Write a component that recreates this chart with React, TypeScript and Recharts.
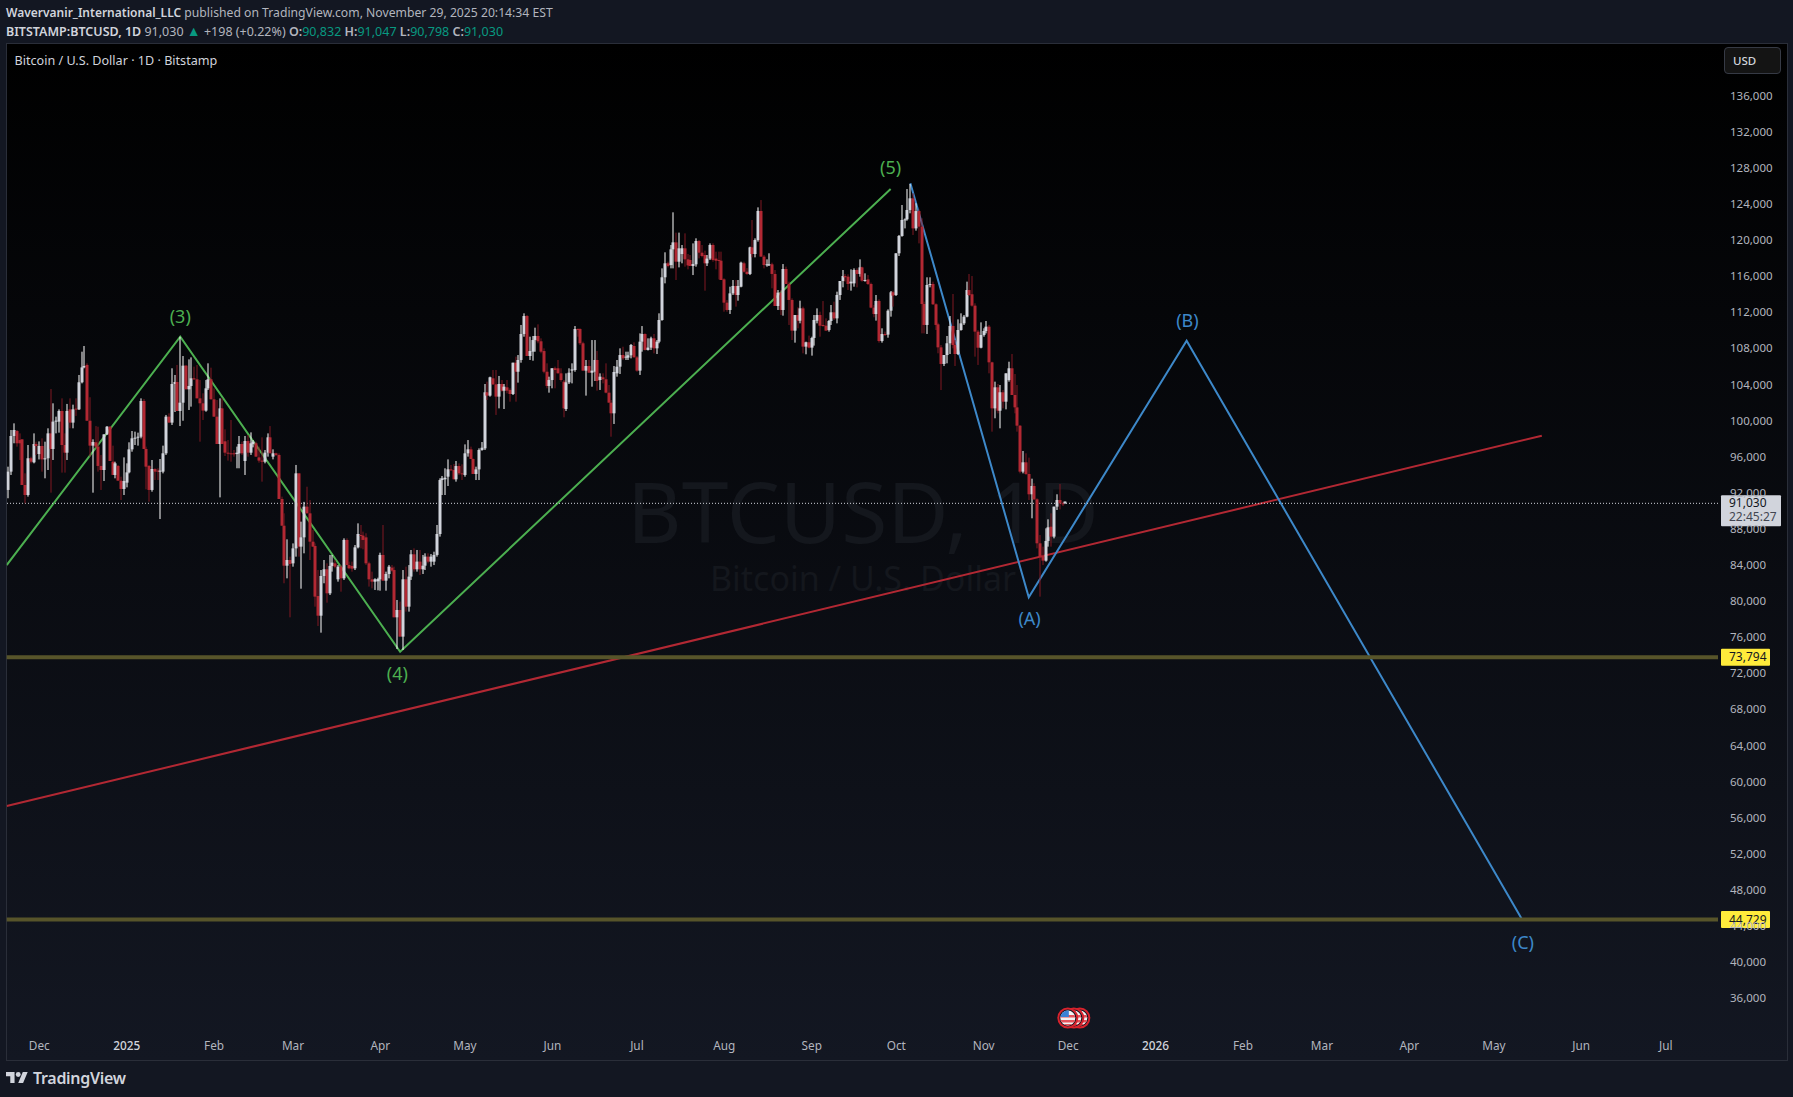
import { Bar, ComposedChart, Line, ReferenceDot, ReferenceLine, XAxis, YAxis } from "recharts";

const opens = [
  92320, 94350, 98300, 98850, 97850, 97930, 92870, 91760, 95830, 95380,
  97410, 96300, 97190, 95710, 95830, 98590, 96860, 99890, 99890, 101070,
  97300, 96450, 101250, 99780, 101330, 101250, 104250, 105900, 106170, 99990,
  97230, 97600, 97120, 94980, 94530, 98480, 99330, 95450, 93980, 94980,
  93350, 92430, 93130, 94270, 96820, 98040, 98110, 98220, 102180, 96860,
  94980, 92320, 94640, 94460, 94350, 94350, 96380, 100440, 99780, 104060,
  104280, 101070, 101990, 106090, 103470, 103840, 104690, 104580, 102470, 101920,
  101110, 103580, 104580, 102360, 100440, 97410, 101360, 97710, 96450, 96380,
  96380, 96300, 96380, 97410, 95530, 97740, 96450, 97410, 97490, 95930,
  95570, 95450, 96450, 98150, 96010, 96380, 96200, 91320, 88360, 83930,
  84560, 84190, 85850, 94160, 86040, 87070, 90470, 89730, 86590, 86110,
  80570, 78390, 82790, 83530, 80870, 83900, 84190, 82420, 83820, 82530,
  86780, 84000, 83900, 83640, 85960, 87330, 87260, 87070, 84190, 82420,
  82160, 82200, 82420, 85120, 82270, 83010, 83710, 83450, 78210, 79020,
  76070, 82420, 79390, 82720, 85190, 83530, 84380, 83530, 83930, 84930,
  84380, 84380, 85120, 87440, 93420, 93500, 93790, 94600, 94530, 93500,
  94970, 94160, 93980, 96380, 96820, 95750, 94090, 94600, 96750, 96930,
  103140, 102770, 104690, 104020, 102660, 104060, 103320, 103690, 103400, 102950,
  106420, 105420, 106720, 109600, 111590, 107160, 107640, 108930, 109380, 108790,
  107710, 105420, 103840, 104500, 105800, 105800, 105240, 104320, 101290, 104240,
  105540, 105610, 110150, 110150, 108570, 105540, 106050, 105310, 105420, 106720,
  104500, 104800, 104580, 103100, 101990, 100810, 105240, 105980, 107270, 106980,
  106980, 107240, 108270, 107010, 105540, 108750, 109600, 107830, 108090, 109120,
  108010, 108750, 111150, 115880, 117430, 117240, 118980, 119750, 117610, 118460,
  119090, 117870, 117800, 117130, 117320, 119900, 118610, 118350, 117430, 117950,
  119460, 117950, 117800, 117720, 115650, 113070, 112260, 114100, 114920, 113920,
  114840, 117430, 116500, 116250, 119200, 118460, 120010, 123230, 118170, 117240,
  117240, 117320, 116250, 112700, 114180, 112260, 116800, 115140, 113370, 109970,
  111700, 111070, 112440, 108200, 108680, 108090, 109160, 111070, 111700, 110600,
  110520, 110040, 111040, 112000, 111330, 113920, 115470, 116020, 115950, 115210,
  115210, 116690, 116250, 116980, 115510, 115650, 115140, 112520, 111810, 113260,
  108820, 109600, 109530, 112180, 114220, 113920, 118540, 120460, 122230, 122300,
  123340, 124630, 121300, 123220, 121490, 112920, 110600, 115030, 115140, 112890,
  110670, 108120, 106280, 107270, 108570, 110490, 108380, 107380, 110040, 110780,
  111520, 114470, 114000, 112740, 109860, 108080, 109490, 109930, 110410, 106460,
  101360, 103690, 101100, 103140, 102100, 104500, 105800, 102840, 101470, 99440,
  94350, 95380, 94090, 91840, 92760, 91280, 86410, 85000, 84490, 86670,
  88250, 87150, 90470, 91210, 90840, 90832,
];

const highs = [
  94900, 98960, 99700, 98960, 98590, 97930, 94160, 97300, 96000, 98590,
  97670, 97700, 98040, 97670, 99150, 103500, 101920, 100440, 101250, 102470,
  98590, 101850, 102470, 101770, 102470, 105060, 107640, 108270, 106350, 102590,
  97930, 99400, 99330, 96200, 98480, 99400, 99400, 97230, 95450, 95090,
  93790, 95930, 95270, 97600, 98850, 98780, 98670, 102470, 102400, 97120,
  95090, 95640, 94720, 94720, 95750, 97230, 100630, 100810, 105800, 105060,
  106170, 109300, 107160, 106170, 106790, 107010, 105980, 106170, 104500, 103030,
  104500, 106350, 105870, 103580, 102290, 102470, 102470, 99040, 97850, 100070,
  96750, 97120, 98300, 97670, 98300, 98410, 98700, 97850, 97670, 97120,
  98150, 96750, 98590, 99400, 96820, 96450, 96380, 91580, 89730, 86850,
  84930, 86400, 95090, 94160, 88810, 91000, 92680, 91210, 87890, 86400,
  83450, 83450, 84560, 84190, 85120, 85120, 84560, 84000, 84000, 86960,
  86960, 84380, 84380, 86220, 88620, 88440, 87700, 87520, 84380, 83270,
  82530, 82600, 85370, 88440, 83270, 84000, 84000, 83820, 80130, 79950,
  83450, 83820, 84000, 85670, 85850, 85670, 85670, 85120, 85300, 85300,
  85220, 85480, 88440, 93610, 93870, 94720, 95710, 95090, 95200, 95530,
  95270, 95160, 97370, 97850, 97120, 95820, 94900, 96930, 97630, 104060,
  104320, 104870, 105610, 105610, 104950, 104500, 104060, 104500, 103580, 106420,
  107090, 107270, 110600, 111890, 111700, 109300, 109380, 110300, 110670, 109120,
  108010, 106350, 104870, 105800, 105980, 106720, 105800, 104500, 105240, 105800,
  106350, 110480, 110230, 110230, 108750, 106720, 106720, 108930, 108930, 107720,
  105240, 105240, 106350, 103950, 102290, 106050, 106720, 108010, 108190, 107640,
  107640, 108490, 108680, 107160, 109670, 110480, 109670, 109120, 109300, 109600,
  108930, 111890, 116870, 118650, 117610, 119460, 123080, 120830, 120830, 119460,
  120750, 118460, 118350, 119640, 120200, 120010, 119460, 118830, 118350, 119640,
  119640, 118720, 118720, 118720, 115770, 113360, 114840, 115580, 115580, 115580,
  117610, 117610, 116900, 119270, 122230, 120200, 123630, 124440, 118350, 117870,
  118540, 117500, 116690, 114470, 114470, 117350, 117060, 115400, 113550, 111700,
  112550, 113290, 112630, 108750, 109420, 109300, 111700, 112440, 112070, 113250,
  111330, 111150, 112810, 113180, 114290, 115470, 116690, 116250, 116210, 116760,
  116870, 116870, 117870, 117060, 116320, 116130, 115290, 112810, 113920, 113440,
  110230, 109860, 112330, 114360, 114400, 118540, 120570, 123890, 122410, 125660,
  126220, 125180, 124080, 123410, 122410, 113180, 115880, 115880, 115400, 113000,
  110850, 108380, 107270, 109380, 111590, 114030, 108940, 111220, 111890, 111700,
  115400, 116250, 116020, 113000, 110040, 110890, 110230, 111040, 110600, 106530,
  104320, 104060, 103950, 103400, 105240, 106530, 107380, 105170, 103950, 99510,
  96640, 96380, 95900, 93570, 93060, 91390, 87330, 86040, 88070, 89070,
  89730, 90470, 91840, 92980, 91030, 91047,
];

const lows = [
  91400, 93980, 97490, 97120, 95640, 92870, 90840, 91580, 95270, 95270,
  96200, 95700, 94350, 93610, 94530, 92020, 95640, 98590, 98670, 94240,
  94240, 95640, 99150, 99150, 100520, 101180, 104130, 105800, 99990, 96010,
  92020, 96930, 94350, 92320, 93310, 98410, 95530, 93980, 93610, 93350,
  91210, 91760, 92610, 94160, 96560, 97300, 97230, 98040, 96860, 92390,
  91020, 92130, 93420, 93420, 89100, 94160, 96200, 99780, 99520, 100960,
  101070, 99400, 99990, 103470, 101180, 101550, 104500, 102470, 97670, 100070,
  100990, 103400, 102360, 100440, 97410, 91500, 97410, 96080, 95570, 95450,
  96010, 94720, 94720, 96200, 93980, 96010, 96200, 97040, 96010, 95340,
  93240, 95270, 96010, 96380, 95710, 96080, 91320, 88360, 81980, 82530,
  78210, 83820, 84930, 84930, 81380, 85300, 89730, 84560, 86040, 79390,
  77250, 76510, 81980, 79830, 80680, 83270, 83640, 82160, 81050, 82350,
  84000, 83530, 83270, 83450, 85850, 85850, 85740, 84000, 81610, 81420,
  81240, 81200, 81160, 82270, 81160, 82530, 83270, 78210, 74700, 76070,
  74590, 78840, 78840, 82350, 83270, 83270, 82900, 83010, 83450, 84190,
  83820, 84000, 84930, 87150, 91760, 91760, 92760, 94460, 93500, 93240,
  93980, 93420, 93790, 96010, 95750, 94090, 93420, 93420, 96670, 96750,
  102290, 102660, 103950, 100630, 101360, 103210, 101290, 103020, 102100, 102840,
  102100, 104210, 106420, 109300, 107160, 106720, 106640, 107640, 108570, 107460,
  105240, 103580, 103100, 103580, 103580, 105240, 104320, 100370, 101070, 104060,
  104130, 105420, 109300, 108380, 105540, 102770, 105310, 103760, 104390, 103320,
  103400, 104130, 103030, 101990, 98220, 99630, 104870, 105170, 106720, 106720,
  106720, 106900, 107010, 105420, 105060, 107640, 107770, 107770, 107830, 107460,
  107380, 108570, 111070, 115210, 116980, 116870, 116870, 115580, 116980, 117430,
  117060, 116760, 117130, 116130, 117060, 117980, 118090, 114400, 117130, 117800,
  117610, 116760, 115650, 115580, 112070, 112070, 111820, 113920, 112630, 113290,
  114770, 116400, 116150, 116130, 118090, 118090, 119830, 118170, 116870, 117060,
  117130, 114660, 112700, 112260, 111700, 111630, 115140, 110600, 108930, 108640,
  110230, 110780, 107460, 107350, 108010, 107200, 108310, 110780, 109300, 110410,
  109970, 109860, 110600, 111150, 110780, 113370, 114770, 115400, 114470, 114400,
  114840, 114770, 115950, 115400, 115400, 115030, 112440, 111450, 111080, 108640,
  108640, 109380, 109190, 111520, 112630, 113810, 118240, 120380, 121300, 122160,
  122970, 120570, 121050, 119640, 109670, 109670, 109600, 114770, 112810, 110040,
  107460, 103390, 106050, 106350, 107380, 108010, 106050, 107270, 109970, 110600,
  111450, 113810, 112630, 107090, 106170, 108010, 109300, 109670, 105240, 98780,
  100260, 100810, 99150, 101360, 101250, 104320, 102840, 100810, 98780, 94160,
  94160, 93980, 91210, 89180, 91210, 85850, 80500, 84000, 84380, 86040,
  86040, 86960, 90100, 90170, 90540, 90798,
];

const closes = [
  94350, 98300, 98960, 97490, 97490, 92870, 91760, 95830, 95450, 97410,
  97190, 97190, 95710, 95830, 98590, 96860, 99890, 100000, 101070, 97300,
  96450, 101070, 99780, 101250, 101220, 104250, 105900, 106050, 99990, 97230,
  97630, 97120, 94980, 94530, 98480, 99330, 95530, 93980, 95270, 93350,
  92430, 93310, 94270, 96820, 98040, 98110, 98220, 102180, 96860, 94900,
  92320, 94640, 94350, 94350, 94460, 96380, 100440, 99780, 104060, 104280,
  101070, 101990, 106090, 103470, 103840, 104690, 104580, 102470, 101920, 101110,
  103580, 104580, 102360, 100440, 97410, 101360, 97410, 96450, 96380, 96300,
  96300, 96450, 97410, 96380, 97740, 96450, 97490, 97670, 96010, 95570,
  95450, 96450, 98150, 96380, 96380, 96200, 91320, 88360, 83930, 84560,
  84120, 85850, 94160, 86040, 87070, 90470, 89730, 86590, 86040, 80500,
  78390, 82790, 83530, 80870, 83900, 84270, 83820, 83820, 82530, 86780,
  84000, 83640, 83600, 85960, 87440, 87260, 86780, 84190, 82420, 82160,
  82420, 82450, 85120, 82270, 83010, 83820, 83380, 78210, 79020, 76070,
  82420, 79390, 82720, 85190, 83530, 84380, 83530, 83930, 84930, 84380,
  84930, 85120, 87440, 93420, 93610, 93680, 94610, 94530, 93500, 94970,
  94160, 94090, 96380, 96820, 95750, 94090, 94600, 96750, 97000, 103140,
  102770, 104800, 104020, 102660, 104060, 103320, 103760, 103320, 102950, 106420,
  105420, 106720, 109600, 111590, 107160, 107710, 108930, 109380, 108790, 107640,
  105420, 103840, 104500, 105800, 105610, 105240, 104500, 101360, 104240, 105310,
  105680, 110150, 110040, 108570, 105540, 106050, 105310, 105540, 106720, 104390,
  104870, 104580, 103100, 101990, 100810, 105390, 105980, 107270, 106900, 107090,
  107240, 108380, 107010, 105540, 108750, 109600, 107830, 108090, 109120, 108010,
  108750, 111150, 115880, 117430, 117130, 118980, 119750, 117610, 119090, 119090,
  117870, 117200, 117130, 117350, 119900, 118610, 118240, 117430, 117950, 119460,
  117800, 117720, 117720, 115580, 113070, 112260, 114100, 114920, 113920, 114920,
  117500, 116500, 116250, 119200, 118460, 120010, 123230, 118170, 117240, 117320,
  117320, 116250, 112700, 114180, 112260, 116800, 115140, 113370, 109970, 111700,
  111070, 112440, 108200, 108680, 108090, 109160, 111150, 111700, 110520, 110520,
  109970, 111040, 112000, 111330, 113920, 115470, 116020, 115880, 115140, 115400,
  116690, 116250, 116980, 115510, 115580, 115140, 112520, 111810, 113260, 108820,
  109600, 109530, 112180, 114220, 113850, 118540, 120460, 122230, 122300, 123340,
  124630, 121300, 123220, 121490, 112920, 110600, 115030, 115140, 112890, 110600,
  108120, 106280, 107270, 108570, 110490, 108380, 107380, 110040, 110780, 111520,
  114470, 113920, 112740, 109860, 108080, 109490, 109930, 110410, 106460, 101360,
  103690, 101100, 103140, 102100, 105240, 105800, 102840, 101470, 99440, 94350,
  95380, 94090, 91840, 92760, 91280, 86410, 84860, 84490, 86670, 88180,
  87150, 90470, 91210, 90840, 90760, 91030,
];

const priceTicks = [
  36000, 40000, 44000, 48000, 52000, 56000, 60000, 64000, 68000, 72000, 76000, 80000, 84000, 88000, 92000, 96000,
  100000, 104000, 108000, 112000, 116000, 120000, 124000, 128000, 132000, 136000,
];
const monthTicks = [11, 42, 73, 101, 132, 162, 193, 223, 254, 285, 315, 346, 376, 407, 438, 466, 497, 527, 558, 588];
const monthLabels = [
  "Dec", "2025", "Feb", "Mar", "Apr", "May", "Jun", "Jul", "Aug", "Sep", "Oct", "Nov", "Dec", "2026", "Feb", "Mar",
  "Apr", "May", "Jun", "Jul",
];

const greenDays = [-0.57, 61, 139, 313];
const greenPrices = [84000, 109300, 74400, 125660];
const blueDays = [320, 362, 418, 537];
const bluePrices = [126300, 80430, 108850, 44729];
const redDays = [-0.57, 544];
const redPrices = [57300, 98330];

const waveNames = ["(3)", "(4)", "(5)", "(A)", "(B)", "(C)"];
const waveNameDays = [61, 138, 313, 362.3, 418.3, 537.3];
const waveNamePrices = [111515, 71985, 127990, 78090, 111040, 42140];
const GREEN = "#4caf50";
const BLUE = "#3d88c9";
const waveNameColors = [GREEN, GREEN, GREEN, BLUE, BLUE, BLUE];

const LAST_LINE = 90840;
const levels = [73794, 44729];

const FONT = "'Noto Sans', sans-serif";
const candles = opens.map((open, i) => ({ i, open, high: highs[i], low: lows[i], close: closes[i] }));
const toRows = (days: number[], prices: number[]) => days.map((i, k) => ({ i, price: prices[k] }));

function Candle(props: any) {
  const { x, y, width, height, payload } = props;
  const { open, high, low, close } = payload;
  const up = close >= open;
  const at = (v: number) => y + ((high - v) / (high - low)) * height;
  const top = at(Math.max(open, close));
  const bottom = at(Math.min(open, close));
  const mid = Math.round(x + width / 2);
  return (
    <g>
      <rect x={mid - 0.5} y={y} width={1} height={height} fill={up ? "#ffffff" : "#801922"} />
      <rect x={mid - 1.5} y={top} width={3} height={Math.max(bottom - top, 1)} fill={up ? "#d1d4dc" : "#b22833"} />
    </g>
  );
}

function PriceTick({ y, payload }: any) {
  return (
    <text x={1730} y={y} dy={4} fill="#b2b5be" fontSize={11.5} fontFamily={FONT}>
      {payload.value.toLocaleString("en-US")}
    </text>
  );
}

function TimeTick({ x, payload }: any) {
  const label = monthLabels[monthTicks.indexOf(payload.value)];
  const year = label.length === 4;
  return (
    <text
      x={x}
      y={1050}
      textAnchor="middle"
      fill={year ? "#d1d4dc" : "#b2b5be"}
      fontSize={11.8}
      fontWeight={year ? 500 : 400}
      fontFamily={FONT}
    >
      {label}
    </text>
  );
}

function LevelTag({ cy, value }: any) {
  return (
    <g>
      <rect x={1721} y={cy - 8.5} width={49} height={17} rx={1} fill="#ffeb3b" />
      <text x={1729} y={cy + 4} fill="#131722" fontSize={12} fontFamily={FONT}>
        {value.toLocaleString("en-US")}
      </text>
    </g>
  );
}

function LastTag({ cy }: any) {
  return (
    <g>
      <rect x={1721} y={cy - 8} width={60} height={31} rx={1} fill="#d1d4dc" />
      <text x={1729} y={cy + 4} fill="#131722" fontSize={12} fontFamily={FONT}>
        91,030
      </text>
      <text x={1729} y={cy + 18} fill="#434651" fontSize={12} fontFamily={FONT}>
        22:45:27
      </text>
    </g>
  );
}

function Flags({ cx, cy }: any) {
  const centers = [13, 7, 1];
  return (
    <g>
      <defs>
        {centers.map((dx) => (
          <clipPath id={`flag${dx}`} key={dx}>
            <circle cx={cx + dx} cy={cy} r={7.5} />
          </clipPath>
        ))}
      </defs>
      {centers.map((dx) => (
        <g key={dx}>
          <circle cx={cx + dx} cy={cy} r={9.5} fill="#131722" stroke="#d8222c" strokeWidth={2} />
          <g clipPath={`url(#flag${dx})`}>
            <rect x={cx + dx - 8} y={cy - 8} width={16} height={16} fill="#f2f2f2" />
            <rect x={cx + dx - 8} y={cy - 3} width={16} height={2.5} fill="#e5525b" />
            <rect x={cx + dx - 8} y={cy + 2} width={16} height={2.5} fill="#e5525b" />
            <rect x={cx + dx - 8} y={cy + 6} width={16} height={2} fill="#e5525b" />
            <rect x={cx + dx - 8} y={cy - 8} width={9} height={7} fill="#3b82d6" />
          </g>
        </g>
      ))}
    </g>
  );
}

const lineStyle = { fontFamily: FONT, lineHeight: "16px", whiteSpace: "nowrap" as const };
const teal = { color: "#089981" };
const strong = { fontWeight: 600 };

export default function App() {
  return (
    <div style={{ position: "fixed", left: 0, top: 0, width: 1793, height: 1097, background: "#131722", overflow: "hidden" }}>
      <div style={{ ...lineStyle, position: "absolute", left: 6, top: 5, color: "#b2b5be", fontSize: 12.2 }}>
        <b style={{ color: "#d1d4dc", fontWeight: 600, fontSize: 12 }}>Wavervanir_International_LLC</b> published on
        TradingView.com, November 29, 2025 20:14:34 EST
      </div>
      <div style={{ ...lineStyle, position: "absolute", left: 6, top: 23, color: "#b2b5be", fontSize: 12.5 }}>
        <b style={{ color: "#d1d4dc", ...strong }}>BITSTAMP:BTCUSD, 1D</b> 91,030 <span style={{ ...teal, fontSize: 14 }}>▲</span> +198
        (+0.22%) <b style={strong}>O:</b><span style={teal}>90,832</span>{" "}
        <b style={strong}>H:</b><span style={teal}>91,047</span>{" "}
        <b style={strong}>L:</b><span style={teal}>90,798</span>{" "}
        <b style={strong}>C:</b><span style={teal}>91,030</span>
      </div>

      <div
        style={{
          position: "absolute",
          left: 6,
          top: 43,
          width: 1780,
          height: 1016,
          border: "1px solid #2a2e39",
          background: "linear-gradient(#000000, #131722)",
        }}
      />
      <div style={{ position: "absolute", left: 363, width: 1000, top: 471, textAlign: "center", color: "#14171d", fontSize: 84, lineHeight: "80px", fontFamily: FONT }}>
        BTCUSD, 1D
      </div>
      <div style={{ position: "absolute", left: 363, width: 1000, top: 558, textAlign: "center", color: "#14171d", fontSize: 34, lineHeight: "40px", fontFamily: FONT }}>
        Bitcoin / U.S. Dollar
      </div>

      <div style={{ position: "absolute", left: 0, top: 0 }}>
        <ComposedChart
          width={1793}
          height={1097}
          data={candles}
          margin={{ top: 43, right: 7, bottom: 37, left: 6.7 }}
        >
          <XAxis
            type="number"
            dataKey="i"
            domain={[-0.57, 606.5]}
            ticks={monthTicks}
            tick={<TimeTick />}
            height={28}
            axisLine={false}
            tickLine={false}
            allowDataOverflow
          />
          <YAxis
            type="number"
            orientation="right"
            domain={[32266, 141839]}
            ticks={priceTicks}
            tick={<PriceTick />}
            width={68}
            axisLine={false}
            tickLine={false}
            allowDataOverflow
          />
          <ReferenceLine y={LAST_LINE} stroke="#d1d4dc" strokeWidth={1} strokeDasharray="1 2" />
          {levels.map((v) => (
            <ReferenceLine key={v} y={v} stroke="#57542a" strokeWidth={4} />
          ))}
          <Line data={toRows(redDays, redPrices)} dataKey="price" stroke="#b22833" strokeWidth={2} dot={false} isAnimationActive={false} zIndex={100} />
          <Line data={toRows(greenDays, greenPrices)} dataKey="price" stroke={GREEN} strokeWidth={2} dot={false} isAnimationActive={false} zIndex={100} />
          <Line data={toRows(blueDays, bluePrices)} dataKey="price" stroke={BLUE} strokeWidth={2} dot={false} isAnimationActive={false} zIndex={100} />
          <Bar dataKey={(d: any) => [d.low, d.high]} barSize={3} shape={<Candle />} isAnimationActive={false} zIndex={500} />
          {waveNames.map((name, k) => (
            <ReferenceDot
              key={name}
              x={waveNameDays[k]}
              y={waveNamePrices[k]}
              r={0}
              stroke="none"
              label={{ value: name, fill: waveNameColors[k], fontSize: 18, fontFamily: FONT, position: "center" }}
            />
          ))}
          <ReferenceDot x={375.5} y={33817} shape={<Flags />} />
          <ReferenceDot x={606.5} y={LAST_LINE} shape={<LastTag />} />
          {levels.map((v) => (
            <ReferenceDot key={v} x={606.5} y={v} shape={<LevelTag value={v} />} />
          ))}
        </ComposedChart>
      </div>

      <div style={{ ...lineStyle, position: "absolute", left: 14.5, top: 53, color: "#d1d4dc", fontSize: 12.6 }}>
        Bitcoin / U.S. Dollar · 1D · Bitstamp
      </div>
      <div
        style={{
          ...lineStyle,
          position: "absolute",
          left: 1724,
          top: 47,
          width: 57,
          height: 27,
          lineHeight: "25px",
          paddingLeft: 8,
          boxSizing: "border-box",
          color: "#d1d4dc",
          background: "#141414",
          border: "1px solid #363a45",
          borderRadius: 4,
          fontSize: 11.5,
          fontWeight: 500,
        }}
      >
        USD
      </div>
      <svg style={{ position: "absolute", left: 6, top: 1072 }} width={22} height={11} viewBox="0 4 36 18">
        <path d="M14 22H7V11H0V4h14v18zM28 22h-8l7.5-18h8L28 22z" fill="#d1d4dc" />
        <circle cx={20} cy={8} r={4} fill="#d1d4dc" />
      </svg>
      <div style={{ position: "absolute", left: 33, top: 1067, color: "#d1d4dc", fontSize: 16, lineHeight: "22px", fontWeight: 600, fontFamily: FONT, letterSpacing: -0.3 }}>
        TradingView
      </div>
    </div>
  );
}
